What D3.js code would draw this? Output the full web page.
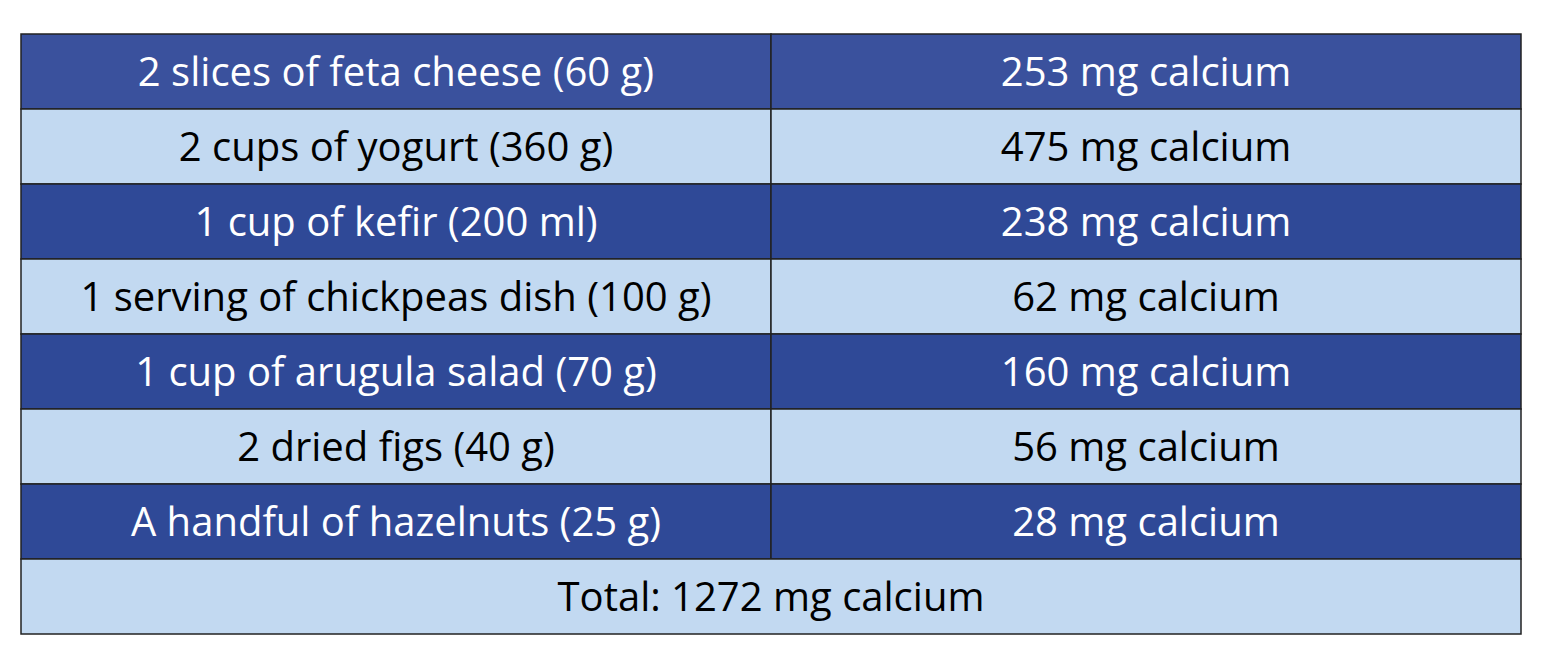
<!DOCTYPE html>
<html><head><meta charset="utf-8">
<script src="https://cdn.jsdelivr.net/npm/d3@7"></script>
<style>body{margin:0;background:#fff}</style>
</head><body>
<svg id="chart" width="1546" height="655"></svg>
<script>
const foods = ["2 slices of feta cheese (60 g)", "2 cups of yogurt (360 g)", "1 cup of kefir (200 ml)",
  "1 serving of chickpeas dish (100 g)", "1 cup of arugula salad (70 g)", "2 dried figs (40 g)",
  "A handful of hazelnuts (25 g)"];
const calcium = [253, 475, 238, 62, 160, 56, 28];
const total = 1272;

const svg = d3.select("#chart");
const tblLeft = 21, tblRight = 1521, tblTop = 34, rowH = 75, split = 771;
const rows = foods.map((f, i) => ({ food: f, value: calcium[i], i }));
const y = d3.scaleBand().domain(d3.range(rows.length + 1)).range([tblTop, tblTop + rowH * (rows.length + 1)]);
const dark = ["#3a519d", "#2f4997"];
const light = "#c2d9f1";
const font = "'Open Sans', sans-serif";

const g = svg.append("g");
rows.forEach(d => {
  const fill = d.i % 2 === 0 ? dark[d.i === 0 ? 0 : 1] : light;
  const col = d.i % 2 === 0 ? "#fff" : "#000";
  [[tblLeft, split, d.food], [split, tblRight, `${d.value} mg calcium`]].forEach(([x0, x1, t]) => {
    g.append("rect").attr("x", x0).attr("y", y(d.i)).attr("width", x1 - x0).attr("height", rowH)
      .attr("fill", fill).attr("stroke", "#222").attr("stroke-width", 1.5);
    g.append("text").attr("x", (x0 + x1) / 2).attr("y", y(d.i) + rowH / 2 + 14)
      .attr("text-anchor", "middle").attr("fill", col).attr("font-family", font)
      .attr("font-size", 40).text(t);
  });
});
const ti = rows.length;
g.append("rect").attr("x", tblLeft).attr("y", y(ti)).attr("width", tblRight - tblLeft).attr("height", rowH)
  .attr("fill", light).attr("stroke", "#222").attr("stroke-width", 1.5);
g.append("text").attr("x", (tblLeft + tblRight) / 2).attr("y", y(ti) + rowH / 2 + 14)
  .attr("text-anchor", "middle").attr("fill", "#000").attr("font-family", font)
  .attr("font-size", 40).text(`Total: ${total} mg calcium`);
</script>
</body></html>
